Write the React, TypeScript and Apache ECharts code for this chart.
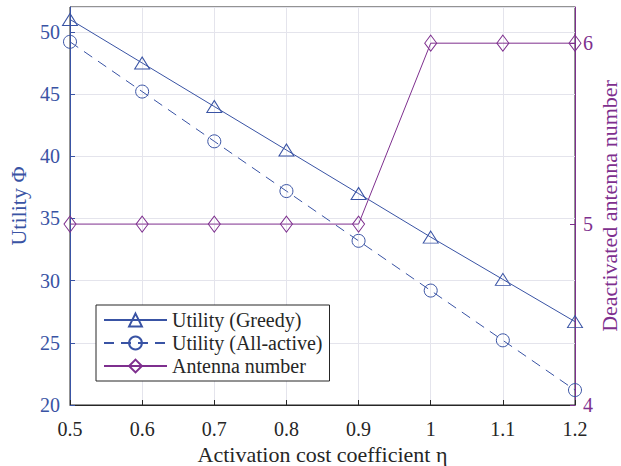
import React, { useEffect, useRef } from "react";
import * as echarts from "echarts";

const eta = [0.5, 0.6, 0.7, 0.8, 0.9, 1.0, 1.1, 1.2];
const utilityGreedy = [51.0, 47.5, 44.0, 40.5, 37.0, 33.5, 30.1, 26.7];
const utilityAllActive = [49.2, 45.2, 41.2, 37.2, 33.2, 29.2, 25.2, 21.2];
const antennaNumber = [5, 5, 5, 5, 5, 6, 6, 6];
const seriesNames = ["Utility (Greedy)", "Utility (All-active)", "Antenna number"];
const rightAxisTitle = "Deactivated antenna number";

const BLUE = "#3953a4";
const PURPLE = "#7e2f8e";
const DARK = "#262626";
const GRID = "#e4e4ec";
const FONT = "'Liberation Serif', 'Times New Roman', serif";

const pairs = (xs: number[], ys: number[]) => xs.map((x, i) => [x, ys[i]]);

export default function App() {
  const ref = useRef<HTMLDivElement>(null);
  useEffect(() => {
    if (!ref.current) return;
    const chart = echarts.init(ref.current, undefined, { renderer: "svg" });
    chart.setOption({
      animation: false,
      backgroundColor: "#fff",
      grid: {
        left: 70,
        top: 7,
        width: 505,
        height: 398,
        containLabel: false,
        outerBoundsMode: "none",
        show: true,
        borderColor: DARK,
        borderWidth: 1,
        backgroundColor: "transparent",
      },
      graphic: [
        {
          type: "text",
          x: 609,
          y: 206,
          rotation: Math.PI / 2,
          style: {
            text: rightAxisTitle,
            font: `22px ${FONT}`,
            lineHeight: 20,
            fill: PURPLE,
            align: "center",
            verticalAlign: "middle",
          },
        },
      ],
      legend: {
        orient: "vertical",
        left: 96,
        top: 305,
        padding: [5, 7, 5, 7],
        itemWidth: 63,
        itemHeight: 16,
        itemGap: 3,
        backgroundColor: "#fff",
        borderColor: DARK,
        borderWidth: 1,
        borderRadius: 0,
        data: seriesNames,
        textStyle: {
          fontFamily: FONT,
          fontSize: 20,
          color: DARK,
          lineHeight: 20,
        },
      },
      xAxis: {
        type: "value",
        min: 0.5,
        max: 1.2,
        interval: 0.1,
        name: "Activation cost coefficient η",
        nameLocation: "middle",
        nameGap: 30,
        nameTextStyle: { fontFamily: FONT, fontSize: 22, lineHeight: 22, color: DARK },
        axisLine: { show: true, lineStyle: { color: DARK, width: 1 } },
        axisTick: { show: true, inside: true, length: 5, lineStyle: { color: DARK } },
        axisLabel: {
          margin: 14,
          fontFamily: FONT,
          fontSize: 20,
          color: DARK,
          formatter: (v: number) => String(Math.round(v * 10) / 10),
        },
        splitLine: { show: true, lineStyle: { color: GRID, width: 1 } },
      },
      yAxis: [
        {
          type: "value",
          position: "left",
          min: 20,
          max: 52,
          interval: 5,
          name: "Utility Φ",
          nameLocation: "middle",
          nameGap: 35,
          nameTextStyle: { fontFamily: FONT, fontSize: 22, lineHeight: 22, color: BLUE },
          axisLine: { show: true, lineStyle: { color: BLUE, width: 1 } },
          axisTick: { show: true, inside: true, length: 5, lineStyle: { color: BLUE } },
          axisLabel: {
            margin: 10,
            fontFamily: FONT,
            fontSize: 20,
            color: BLUE,
            showMaxLabel: false,
            formatter: (v: number) => (v % 5 === 0 ? String(v) : ""),
          },
          splitLine: { show: true, lineStyle: { color: GRID, width: 1 } },
        },
        {
          type: "value",
          position: "right",
          min: 4,
          max: 6.2,
          interval: 1,
          axisLine: { show: true, lineStyle: { color: PURPLE, width: 1 } },
          axisTick: { show: true, inside: true, length: 5, lineStyle: { color: PURPLE } },
          axisLabel: {
            margin: 8,
            fontFamily: FONT,
            fontSize: 20,
            color: PURPLE,
            showMaxLabel: false,
            formatter: (v: number) => (Number.isInteger(v) ? String(v) : ""),
          },
          splitLine: { show: false },
        },
      ],
      series: [
        {
          name: seriesNames[0],
          type: "line",
          yAxisIndex: 0,
          data: pairs(eta, utilityGreedy),
          symbol: "triangle",
          symbolSize: [15, 12],
          lineStyle: { color: BLUE, width: 1, type: "solid" },
          itemStyle: { color: "rgba(0,0,0,0)", borderColor: BLUE, borderWidth: 1 },
          emphasis: { disabled: true },
          z: 3,
        },
        {
          name: seriesNames[1],
          type: "line",
          yAxisIndex: 0,
          data: pairs(eta, utilityAllActive),
          symbol: "circle",
          symbolSize: 13,
          lineStyle: { color: BLUE, width: 1, type: [10, 7] },
          itemStyle: { color: "rgba(0,0,0,0)", borderColor: BLUE, borderWidth: 1 },
          emphasis: { disabled: true },
          z: 3,
        },
        {
          name: seriesNames[2],
          type: "line",
          yAxisIndex: 1,
          data: pairs(eta, antennaNumber),
          symbol: "diamond",
          symbolSize: [12, 16],
          lineStyle: { color: PURPLE, width: 1, type: "solid" },
          itemStyle: { color: "rgba(0,0,0,0)", borderColor: PURPLE, borderWidth: 1 },
          emphasis: { disabled: true },
          z: 3,
        },
      ],
    });
    return () => chart.dispose();
  }, []);
  return (
    <div
      ref={ref}
      style={{ position: "fixed", left: 0, top: 0, width: 621, height: 466, background: "#fff" }}
    />
  );
}
